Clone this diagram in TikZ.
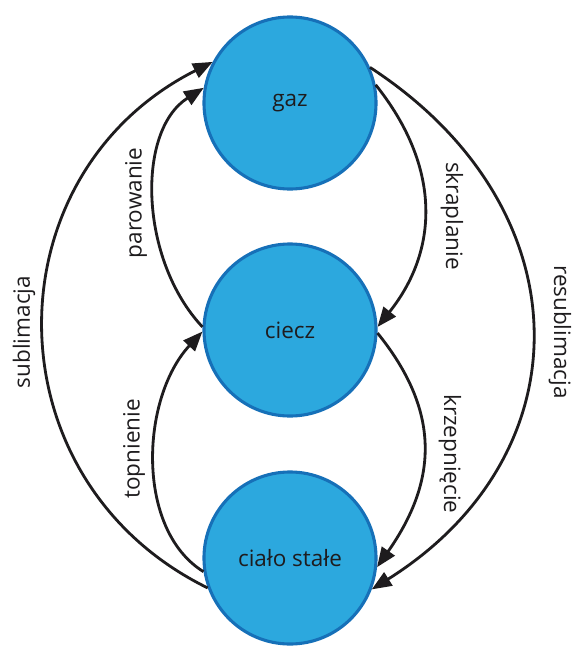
\documentclass[tikz,border=0pt]{standalone}
\usepackage{fontspec}
\setmainfont{Open Sans}
\usetikzlibrary{arrows.meta}

\definecolor{phasefill}{RGB}{44,168,222}
\definecolor{phaseedge}{RGB}{22,112,184}
\definecolor{ink}{RGB}{30,28,30}

\tikzset{
  phase/.style={circle, draw=phaseedge, fill=phasefill, line width=2.2pt,
    minimum size=4.3cm, inner sep=0pt, text=ink, font=\fontsize{16}{19}\selectfont},
  trans/.style={draw=ink, line width=2pt, -{Triangle[length=14pt,width=11pt]}},
  lbl/.style={text=ink, font=\fontsize{16}{19}\selectfont}
}

\begin{document}
\begin{tikzpicture}[x=0.025cm, y=-0.025cm]
    \useasboundingbox (0, 0) rectangle (587, 650);
    \node[phase] (gaz) at (290, 103) {gaz};
    \node[phase] (ciecz) at (290, 330) {ciecz};
    \node[phase] (stale) at (290, 558) {ciało stałe};
    \node[lbl, rotate=90] (sublimacja) at (24, 332) {sublimacja};
    \node[lbl, rotate=90] (parowanie) at (136, 203) {parowanie};
    \node[lbl, rotate=90] (topnienie) at (134, 449) {topnienie};
    \node[lbl, rotate=-90] (skraplanie) at (452, 216) {skraplanie};
    \node[lbl, rotate=-90] (krzepniecie) at (450, 454) {krzepnięcie};
    \node[lbl, rotate=-90] (resublimacja) at (560, 332) {resublimacja};
    \draw[trans] (stale.200) .. controls +(-220, -108) and +(-224, 113) .. (gaz.152);
    \draw[trans] (ciecz.178) .. controls +(-63, -67) and +(-68, 43) .. (gaz.170);
    \draw[trans] (stale.189) .. controls +(-68, -42) and +(-62, 67) .. (ciecz.181);
    \draw[trans] (gaz.12) .. controls +(64, 80) and +(63, -79) .. (ciecz.2);
    \draw[trans] (ciecz.-2) .. controls +(63, 78) and +(61, -87) .. (stale.-6);
    \draw[trans] (gaz.24) .. controls +(215, 140) and +(215, -135) .. (stale.-21);
\end{tikzpicture}
\end{document}
